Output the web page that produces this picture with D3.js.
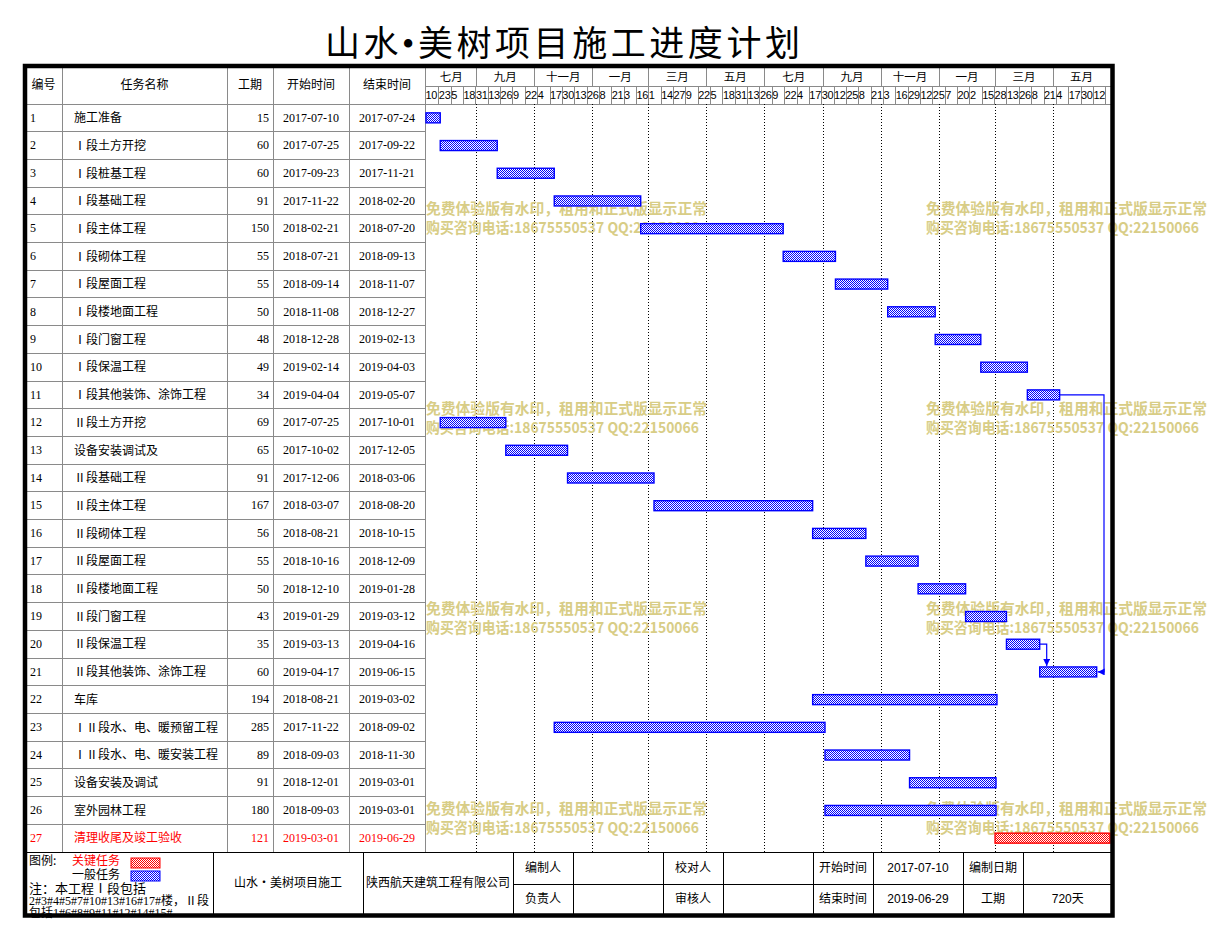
<!DOCTYPE html>
<html>
<head>
<meta charset="utf-8">
<script src="https://cdn.jsdelivr.net/npm/d3@7"></script>
<style>
  body { margin: 0; background: #fff; }
</style>
</head>
<body>
<div id="chart"></div>
<script>
// data
const chartTitle = "山水•美树项目施工进度计划"
const taskNames = [
  "施工准备", "Ⅰ段土方开挖", "Ⅰ段桩基工程", "Ⅰ段基础工程", "Ⅰ段主体工程",
  "Ⅰ段砌体工程", "Ⅰ段屋面工程", "Ⅰ段楼地面工程", "Ⅰ段门窗工程", "Ⅰ段保温工程",
  "Ⅰ段其他装饰、涂饰工程", "Ⅱ段土方开挖", "设备安装调试及", "Ⅱ段基础工程", "Ⅱ段主体工程",
  "Ⅱ段砌体工程", "Ⅱ段屋面工程", "Ⅱ段楼地面工程", "Ⅱ段门窗工程", "Ⅱ段保温工程",
  "Ⅱ段其他装饰、涂饰工程", "车库", "ⅠⅡ段水、电、暖预留工程", "ⅠⅡ段水、电、暖安装工程", "设备安装及调试",
  "室外园林工程", "清理收尾及竣工验收"
]
const durations = [15, 60, 60, 91, 150, 55, 55, 50, 48, 49, 34, 69, 65, 91, 167, 56, 55, 50, 43, 35, 60, 194, 285, 89, 91, 180, 121]
const startDates = [
  "2017-07-10", "2017-07-25", "2017-09-23", "2017-11-22", "2018-02-21",
  "2018-07-21", "2018-09-14", "2018-11-08", "2018-12-28", "2019-02-14",
  "2019-04-04", "2017-07-25", "2017-10-02", "2017-12-06", "2018-03-07",
  "2018-08-21", "2018-10-16", "2018-12-10", "2019-01-29", "2019-03-13",
  "2019-04-17", "2018-08-21", "2017-11-22", "2018-09-03", "2018-12-01",
  "2018-09-03", "2019-03-01"
]
const endDates = [
  "2017-07-24", "2017-09-22", "2017-11-21", "2018-02-20", "2018-07-20",
  "2018-09-13", "2018-11-07", "2018-12-27", "2019-02-13", "2019-04-03",
  "2019-05-07", "2017-10-01", "2017-12-05", "2018-03-06", "2018-08-20",
  "2018-10-15", "2018-12-09", "2019-01-28", "2019-03-12", "2019-04-16",
  "2019-06-15", "2019-03-02", "2018-09-02", "2018-11-30", "2019-03-01",
  "2019-03-01", "2019-06-29"
]
const criticalTasks = [27]
const links = [
  { from: 11, to: 21, kind: "ff" },
  { from: 20, to: 21, kind: "fs" }
]
const monthNames = ["一月", "二月", "三月", "四月", "五月", "六月", "七月", "八月", "九月", "十月", "十一月", "十二月"]
const headerLabels = ["编号", "任务名称", "工期", "开始时间", "结束时间"]
const tickStepDays = 13
const projectStart = "2017-07-10"
const projectEnd = "2019-06-29"
const projectLength = "720天"
const projectName = "山水•美树项目施工"
const companyName = "陕西航天建筑工程有限公司"
const signRow1 = ["编制人", "", "校对人", "", "开始时间", projectStart, "编制日期", ""]
const signRow2 = ["负责人", "", "审核人", "", "结束时间", projectEnd, "工期", projectLength]
const legendLabels = ["关键任务", "一般任务"]
const noteLines = ["注：本工程Ⅰ段包括", "2#3#4#5#7#10#13#16#17#楼，Ⅱ段", "包括1#6#8#9#11#12#14#15#"]
const watermarkLines = ["免费体验版有水印，租用和正式版显示正常", "购买咨询电话:18675550537 QQ:22150066"]

// dimensions
const FONT = '"Liberation Serif", "Noto Sans CJK SC", serif'
const SANS = '"Noto Sans CJK SC", sans-serif'
const NUM = '"Liberation Sans", "Noto Sans CJK SC", sans-serif'
const dims = {
  width: 1209, height: 940,
  left: 25, top: 66, right: 1112.5, bottom: 915.5,
  headMid: 86, bodyTop: 104, bodyBottom: 852, footMid: 884,
  chartLeft: 426, chartRight: 1110
}
const cols = [dims.left, 62, 227, 273, 349, 425]
const footCols = [dims.left, 213, 363, 513, 573, 663, 723, 813, 873, 963, 1023, dims.right]
const GRID = "#8a8a8a"

const parse = d3.timeParse("%Y-%m-%d")
const tasks = taskNames.map((name, i) => ({
  id: i + 1,
  name,
  duration: durations[i],
  start: parse(startDates[i]),
  end: parse(endDates[i]),
  startLabel: startDates[i],
  endLabel: endDates[i],
  critical: criticalTasks.includes(i + 1)
}))
const byId = new Map(tasks.map(d => [d.id, d]))

const svg = d3.select("#chart").append("svg")
  .attr("width", dims.width)
  .attr("height", dims.height)

// patterns
const defs = svg.append("defs")
function checker(id, color) {
  const p = defs.append("pattern")
    .attr("id", id)
    .attr("width", 2).attr("height", 2)
    .attr("patternUnits", "userSpaceOnUse")
  p.append("rect").attr("width", 2).attr("height", 2).attr("fill", "#fff")
  p.append("rect").attr("width", 1).attr("height", 1).attr("fill", color)
  p.append("rect").attr("x", 1).attr("y", 1).attr("width", 1).attr("height", 1).attr("fill", color)
}
checker("chk-blue", "#0000ff")
checker("chk-red", "#ff0000")
defs.append("marker")
  .attr("id", "arrow")
  .attr("viewBox", "0 -4 8 8")
  .attr("refX", 8).attr("refY", 0)
  .attr("markerWidth", 7).attr("markerHeight", 7)
  .attr("markerUnits", "userSpaceOnUse")
  .attr("orient", "auto")
  .append("path")
  .attr("d", "M0,-4L8,0L0,4Z")
  .attr("fill", "#0000ff")

// scales
const domainStart = parse(projectStart)
const domainEnd = d3.timeDay.offset(parse(projectEnd), 1)
const xScale = d3.scaleTime()
  .domain([domainStart, domainEnd])
  .range([dims.chartLeft, dims.chartRight])

const yScale = d3.scaleBand()
  .domain(tasks.map(d => d.id))
  .range([dims.bodyTop, dims.bodyBottom])

const rowMid = id => yScale(id) + yScale.bandwidth() / 2
const barH = 10

// title
svg.append("text")
  .attr("x", 325).attr("y", 56)
  .attr("textLength", 475)
  .attr("lengthAdjust", "spacing")
  .attr("font-family", FONT)
  .attr("font-size", 35)
  .attr("fill", "#000")
  .text(chartTitle)

// table grid
const grid = svg.append("g").attr("stroke", GRID).attr("stroke-width", 1).attr("shape-rendering", "crispEdges")
cols.slice(1).forEach(x => {
  grid.append("line").attr("x1", x).attr("x2", x).attr("y1", dims.top).attr("y2", dims.bodyBottom)
})
tasks.forEach(d => {
  grid.append("line")
    .attr("x1", dims.left).attr("x2", cols[5])
    .attr("y1", yScale(d.id)).attr("y2", yScale(d.id))
})
grid.append("line").attr("x1", cols[5]).attr("x2", dims.right).attr("y1", dims.headMid).attr("y2", dims.headMid)
grid.append("line").attr("x1", cols[5]).attr("x2", dims.right).attr("y1", dims.bodyTop).attr("y2", dims.bodyTop)

// header labels
headerLabels.forEach((t, i) => {
  svg.append("text")
    .attr("x", (cols[i] + cols[i + 1]) / 2)
    .attr("y", (dims.top + dims.bodyTop) / 2 + 1)
    .attr("text-anchor", "middle")
    .attr("dominant-baseline", "middle")
    .attr("font-family", SANS)
    .attr("font-size", 12)
    .text(t)
})

// timeline header: two-month bands
const monthBounds = [domainStart, ...d3.timeMonth.every(2).range(domainStart, domainEnd), domainEnd]
const monthCells = d3.pairs(monthBounds)
const head = svg.append("g")
monthCells.forEach(([a, b]) => {
  head.append("text")
    .attr("x", (xScale(a) + xScale(b)) / 2)
    .attr("y", (dims.top + dims.headMid) / 2 + 2)
    .attr("text-anchor", "middle")
    .attr("dominant-baseline", "middle")
    .attr("font-family", SANS)
    .attr("font-size", 11.5)
    .text(monthNames[a.getMonth()])
})
monthBounds.slice(1, -1).forEach(m => {
  head.append("line")
    .attr("x1", Math.round(xScale(m)) + 0.5).attr("x2", Math.round(xScale(m)) + 0.5)
    .attr("y1", dims.top).attr("y2", dims.headMid)
    .attr("stroke", GRID)
})

// day ticks every 13 days
const dayTicks = d3.timeDay.range(domainStart, domainEnd, tickStepDays)
const dayFmt = d3.timeFormat("%-d")
dayTicks.forEach((t, i) => {
  const x = xScale(t)
  if (i > 0) {
    head.append("line")
      .attr("x1", Math.round(x) + 0.5).attr("x2", Math.round(x) + 0.5)
      .attr("y1", dims.headMid).attr("y2", dims.bodyTop)
      .attr("stroke", GRID)
  }
  if (x + 10 > dims.chartRight) return
  head.append("text")
    .attr("x", x + (i > 0 ? 0.5 : -0.5))
    .attr("y", (dims.headMid + dims.bodyTop) / 2 + 1)
    .attr("dominant-baseline", "middle")
    .attr("font-family", NUM)
    .attr("font-size", 11)
    .attr("letter-spacing", -0.3)
    .attr("fill", "#000")
    .text(dayFmt(t))
})

// dotted month guides in body
monthBounds.slice(1, -1).forEach(m => {
  svg.append("line")
    .attr("x1", Math.round(xScale(m)) + 0.5).attr("x2", Math.round(xScale(m)) + 0.5)
    .attr("y1", dims.bodyTop).attr("y2", dims.bodyBottom)
    .attr("stroke", "#000")
    .attr("stroke-dasharray", "1,2")
})

// table rows
const rows = svg.append("g")
  .attr("font-size", 12)
tasks.forEach(d => {
  const y = rowMid(d.id) + 1
  const color = d.critical ? "#ff0000" : "#000"
  const g = rows.append("g").attr("fill", color)
  g.append("text").attr("x", 30).attr("y", y).attr("dominant-baseline", "middle")
    .attr("font-family", FONT).text(d.id)
  g.append("text").attr("x", 74).attr("y", y).attr("dominant-baseline", "middle")
    .attr("font-family", SANS).text(d.name)
  g.append("text").attr("x", cols[3] - 4).attr("y", y).attr("dominant-baseline", "middle")
    .attr("text-anchor", "end").attr("font-family", FONT).text(d.duration)
  g.append("text").attr("x", (cols[3] + cols[4]) / 2).attr("y", y).attr("dominant-baseline", "middle")
    .attr("text-anchor", "middle").attr("font-family", FONT).text(d.startLabel)
  g.append("text").attr("x", (cols[4] + cols[5]) / 2).attr("y", y).attr("dominant-baseline", "middle")
    .attr("text-anchor", "middle").attr("font-family", FONT).text(d.endLabel)
})

// watermark
const wmWidths = [281, 273]
const wm = svg.append("g")
  .attr("font-family", SANS)
  .attr("font-size", 15)
  .attr("font-weight", "bold")
  .attr("fill", "#d8cd86")
d3.range(4).forEach(r => {
  [dims.chartLeft, dims.chartLeft + 500].forEach(x => {
    watermarkLines.forEach((line, k) => {
      wm.append("text")
        .attr("x", x)
        .attr("y", 214 + r * 200 + k * 19)
        .attr("textLength", wmWidths[k])
        .attr("lengthAdjust", "spacingAndGlyphs")
        .text(line)
    })
  })
})

// bars
svg.append("g")
  .selectAll("rect")
  .data(tasks)
  .join("rect")
  .attr("x", d => xScale(d.start))
  .attr("y", d => rowMid(d.id) - barH / 2)
  .attr("width", d => xScale(d3.timeDay.offset(d.end, 1)) - xScale(d.start))
  .attr("height", barH)
  .attr("fill", d => d.critical ? "url(#chk-red)" : "url(#chk-blue)")
  .attr("stroke", d => d.critical ? "#ff0000" : "#0000ff")
  .attr("stroke-width", 1.4)

// dependency links
const endX = d => xScale(d3.timeDay.offset(d.end, 1))
svg.append("g")
  .selectAll("path")
  .data(links)
  .join("path")
  .attr("d", l => {
    const a = byId.get(l.from), b = byId.get(l.to)
    if (l.kind === "ff") {
      const turn = dims.chartRight - 6
      return `M${endX(a)},${rowMid(a.id)}H${turn}V${rowMid(b.id)}H${endX(b) + 1}`
    }
    const turn = xScale(b.start) + 7
    return `M${endX(a)},${rowMid(a.id)}H${turn}V${rowMid(b.id) - barH / 2 - 1}`
  })
  .attr("fill", "none")
  .attr("stroke", "#0000ff")
  .attr("stroke-width", 1.2)
  .attr("marker-end", "url(#arrow)")

// footer
const foot = svg.append("g")
  .attr("stroke", "#000")
  .attr("stroke-width", 1)
  .attr("shape-rendering", "crispEdges")
foot.append("line").attr("x1", dims.left).attr("x2", dims.right).attr("y1", dims.bodyBottom).attr("y2", dims.bodyBottom)
foot.append("line").attr("x1", footCols[3]).attr("x2", dims.right).attr("y1", dims.footMid).attr("y2", dims.footMid)
footCols.slice(1, -1).forEach(x => {
  foot.append("line").attr("x1", x).attr("x2", x).attr("y1", dims.bodyBottom).attr("y2", dims.bottom)
})

const footText = svg.append("g").attr("font-family", SANS).attr("font-size", 12)
footText.append("text")
  .attr("x", (footCols[1] + footCols[2]) / 2).attr("y", (dims.bodyBottom + dims.bottom) / 2)
  .attr("text-anchor", "middle").attr("dominant-baseline", "middle")
  .text(projectName)
footText.append("text")
  .attr("x", (footCols[2] + footCols[3]) / 2).attr("y", (dims.bodyBottom + dims.bottom) / 2)
  .attr("text-anchor", "middle").attr("dominant-baseline", "middle")
  .text(companyName)
;[signRow1, signRow2].forEach((row, r) => {
  const y0 = r === 0 ? dims.bodyBottom : dims.footMid
  const y1 = r === 0 ? dims.footMid : dims.bottom - 2
  row.forEach((t, i) => {
    if (!t) return
    footText.append("text")
      .attr("x", (footCols[i + 3] + footCols[i + 4]) / 2)
      .attr("y", (y0 + y1) / 2 + 1)
      .attr("text-anchor", "middle").attr("dominant-baseline", "middle")
      .attr("font-family", /^\d/.test(t) ? NUM : SANS)
      .text(t)
  })
})

// legend
footText.append("text").attr("x", 29).attr("y", 865).attr("font-size", 12).text("图例:")
footText.append("text").attr("x", 72).attr("y", 865).attr("font-size", 12).attr("fill", "#ff0000").text(legendLabels[0])
footText.append("text").attr("x", 72).attr("y", 879).attr("font-size", 12).text(legendLabels[1])
svg.append("rect").attr("x", 131).attr("y", 858).attr("width", 29).attr("height", 10)
  .attr("fill", "url(#chk-red)").attr("stroke", "#ff0000")
svg.append("rect").attr("x", 131).attr("y", 871).attr("width", 29).attr("height", 10)
  .attr("fill", "url(#chk-blue)").attr("stroke", "#0000ff")
noteLines.forEach((t, i) => {
  footText.append("text")
    .attr("x", 29).attr("y", 893 + i * 12)
    .attr("font-family", FONT)
    .attr("font-size", i === 0 ? 13 : 12)
    .text(t)
})

// outer border
svg.append("rect")
  .attr("x", dims.left).attr("y", dims.top)
  .attr("width", dims.right - dims.left)
  .attr("height", dims.bottom - dims.top)
  .attr("fill", "none")
  .attr("stroke", "#000")
  .attr("stroke-width", 4.5)
</script>
</body>
</html>
